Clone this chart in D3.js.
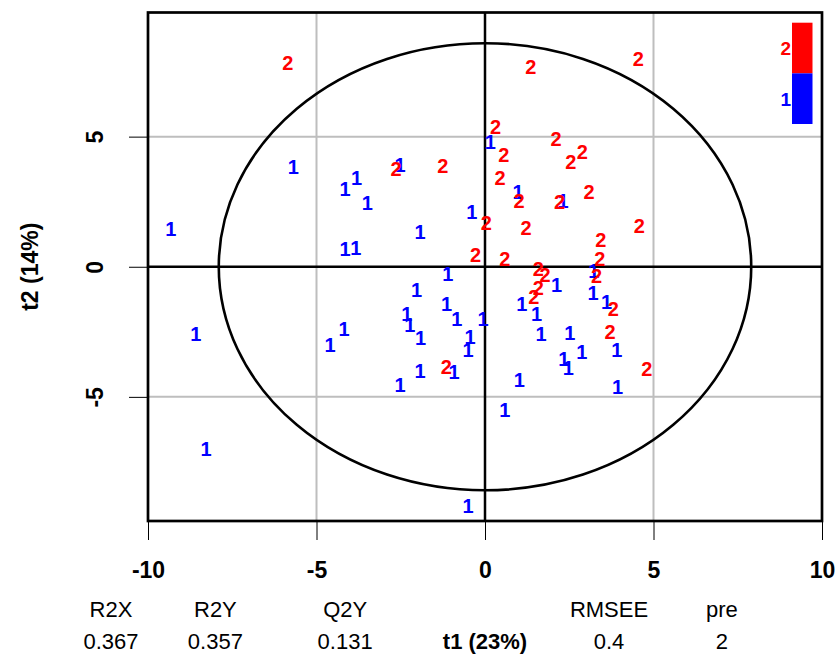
<!DOCTYPE html>
<html>
<head>
<meta charset="utf-8">
<script src="https://cdn.jsdelivr.net/npm/d3@7"></script>
<style>
  body { margin: 0; background: #fff; }
  text { font-family: "Liberation Sans", Arial, sans-serif; }
</style>
</head>
<body>
<div id="score-plot"></div>
<script>

// score values (t1, t2) for each class
const t1Class1 = [-9.32, -5.69, -4.15, -3.81, -3.49, -2.52, -0.39, -1.93, -4.15, -3.83,
  0.16, 0.98, 2.32, -1.10, -2.03, -1.14, -0.84, -0.06, -2.32, -2.23,
  -1.91, -0.44, -0.50, -4.18, -4.60, -8.58, -1.93, -0.92, -2.52, -8.28,
  -0.50, 0.59, 1.02, 1.09, 1.53, 2.12, 3.23, 3.21, 3.61, 1.66,
  2.52, 2.87, 3.91, 2.34, 2.47, 3.93];
const t2Class1 = [1.44, 3.85, 2.99, 3.40, 2.44, 3.91, 2.12, 1.33, 0.68, 0.72,
  4.81, 2.87, 2.53, -0.26, -0.90, -1.41, -2.00, -2.01, -1.79, -2.24,
  -2.72, -2.69, -3.18, -2.37, -3.01, -2.56, -4.01, -4.04, -4.55, -6.98,
  -9.17, -5.51, -4.33, -1.41, -1.79, -0.69, -0.17, -1.02, -1.35, -2.56,
  -2.55, -3.27, -3.20, -3.52, -3.88, -4.62];

const t1Class2 = [-5.85, 1.36, 4.55, 0.31, 2.11, 0.56, 2.89, 2.55, -2.64, -1.25,
  0.45, 1.01, 2.21, 3.09, 0.04, 1.22, 4.58, 3.44, -0.28, 0.59,
  3.41, 1.58, 1.78, 3.31, 1.58, 1.45, 3.81, 3.71, -1.15, 4.80];
const t2Class2 = [7.82, 7.69, 7.98, 5.37, 4.91, 4.30, 4.41, 4.04, 3.78, 3.87,
  3.40, 2.52, 2.50, 2.88, 1.70, 1.49, 1.58, 1.04, 0.47, 0.30,
  0.30, -0.06, -0.32, -0.34, -0.82, -1.15, -1.60, -2.50, -3.86, -3.91];

const classLabels = ["2", "1"];
const classColors = ["#ff0000", "#0000ff"];

const xTicks = [-10, -5, 0, 5, 10];
const yTicks = [-5, 0, 5];

const metricNames = ["R2X", "R2Y", "Q2Y", "RMSEE", "pre"];
const metricValues = ["0.367", "0.357", "0.131", "0.4", "2"];

// Hotelling ellipse half axes (t1, t2)
const ellipseT1 = 7.9;
const ellipseT2 = 8.59;

const width = 840, height = 662;
const margin = {top: 12.5, right: 18, bottom: 141, left: 148};

const svg = d3.select("#score-plot")
  .append("svg")
  .attr("width", width)
  .attr("height", height);

const xScale = d3.scaleLinear()
  .domain([-10, 10])
  .range([margin.left, width - margin.right]);

const yScale = d3.scaleLinear()
  .domain([-9.77, 9.77])
  .range([height - margin.bottom, margin.top]);

// grey grid lines
svg.append("g")
  .selectAll("line")
  .data(xTicks.filter(d => d !== 0))
  .join("line")
  .attr("x1", d => xScale(d)).attr("x2", d => xScale(d))
  .attr("y1", yScale(9.77)).attr("y2", yScale(-9.77))
  .attr("stroke", "#bebebe").attr("stroke-width", 2);

svg.append("g")
  .selectAll("line")
  .data(yTicks.filter(d => d !== 0))
  .join("line")
  .attr("x1", xScale(-10)).attr("x2", xScale(10))
  .attr("y1", d => yScale(d)).attr("y2", d => yScale(d))
  .attr("stroke", "#bebebe").attr("stroke-width", 2);

// zero lines
svg.append("line")
  .attr("x1", xScale(0)).attr("x2", xScale(0))
  .attr("y1", yScale(9.77)).attr("y2", yScale(-9.77))
  .attr("stroke", "black").attr("stroke-width", 2.5);
svg.append("line")
  .attr("x1", xScale(-10)).attr("x2", xScale(10))
  .attr("y1", yScale(0)).attr("y2", yScale(0))
  .attr("stroke", "black").attr("stroke-width", 2.5);

// ellipse
svg.append("ellipse")
  .attr("cx", xScale(0))
  .attr("cy", yScale(0))
  .attr("rx", xScale(ellipseT1) - xScale(0))
  .attr("ry", yScale(0) - yScale(ellipseT2))
  .attr("fill", "none")
  .attr("stroke", "black")
  .attr("stroke-width", 2.6);

// the score labels
const pts = [];
t1Class1.forEach((v, i) => pts.push({x: v, y: t2Class1[i], lab: "1"}));
t1Class2.forEach((v, i) => pts.push({x: v, y: t2Class2[i], lab: "2"}));

svg.append("g")
  .selectAll("text")
  .data(pts)
  .join("text")
  .attr("x", d => xScale(d.x))
  .attr("y", d => yScale(d.y))
  .attr("dy", "0.36em")
  .attr("text-anchor", "middle")
  .attr("font-size", "20px")
  .attr("font-weight", "bold")
  .attr("fill", d => classColors[classLabels.indexOf(d.lab)])
  .text(d => d.lab);

// box
svg.append("rect")
  .attr("x", xScale(-10)).attr("y", yScale(9.77))
  .attr("width", xScale(10) - xScale(-10))
  .attr("height", yScale(-9.77) - yScale(9.77))
  .attr("fill", "none")
  .attr("stroke", "black")
  .attr("stroke-width", 2.7);

// axes
const xAxis = svg.append("g")
  .attr("transform", `translate(0,${yScale(-9.77)})`)
  .call(d3.axisBottom(xScale).tickValues(xTicks).tickSize(19).tickPadding(22).tickFormat(d3.format("d")));
xAxis.select(".domain").remove();
xAxis.selectAll("text")
  .attr("font-size", "23px").attr("font-weight", "bold")
  .attr("font-family", "Liberation Sans, Arial, sans-serif")
  .text(d => d < 0 ? "-" + Math.abs(d) : d);

const yAxis = svg.append("g")
  .attr("transform", `translate(${xScale(-10)},0)`)
  .call(d3.axisLeft(yScale).tickValues(yTicks).tickSize(19).tickFormat(d3.format("d")));
yAxis.select(".domain").remove();
yAxis.selectAll("text")
  .attr("x", null).attr("dy", "0.36em")
  .attr("font-size", "23px").attr("font-weight", "bold")
  .attr("font-family", "Liberation Sans, Arial, sans-serif")
  .attr("text-anchor", "middle")
  .attr("transform", d => `translate(-53,0) rotate(-90)`)
  .text(d => d < 0 ? "-" + Math.abs(d) : d);

// y title
svg.append("text")
  .attr("transform", `translate(30,${yScale(0)}) rotate(-90)`)
  .attr("dy", "0.36em")
  .attr("text-anchor", "middle")
  .attr("font-size", "23px")
  .attr("font-weight", "bold")
  .text("t2 (14%)");

// metrics under the axis
const metricAt = [-11.1, -8.0, -4.15, 3.68, 7.03];
svg.append("g")
  .selectAll("text")
  .data(metricNames)
  .join("text")
  .attr("x", (d, i) => xScale(metricAt[i]))
  .attr("y", 609).attr("dy", "0.36em")
  .attr("text-anchor", "middle")
  .attr("font-size", "22px")
  .text(d => d);

svg.append("g")
  .selectAll("text")
  .data(metricValues)
  .join("text")
  .attr("x", (d, i) => xScale(metricAt[i]))
  .attr("y", 641).attr("dy", "0.36em")
  .attr("text-anchor", "middle")
  .attr("font-size", "22px")
  .text(d => d);

svg.append("text")
  .attr("x", xScale(0))
  .attr("y", 641).attr("dy", "0.36em")
  .attr("text-anchor", "middle")
  .attr("font-size", "22px")
  .attr("font-weight", "bold")
  .text("t1 (23%)");

// legend color bar
const legY = d3.scaleBand().domain(classLabels).range([22.7, 124]);
const leg = svg.append("g");
leg.selectAll("rect")
  .data(classLabels)
  .join("rect")
  .attr("x", 792).attr("width", 20.5)
  .attr("y", d => legY(d))
  .attr("height", legY.bandwidth())
  .attr("fill", (d, i) => classColors[i]);
leg.selectAll("text")
  .data(classLabels)
  .join("text")
  .attr("x", 791)
  .attr("y", d => legY(d) + legY.bandwidth() / 2)
  .attr("dy", "0.36em")
  .attr("text-anchor", "end")
  .attr("font-size", "19px")
  .attr("font-weight", "bold")
  .attr("fill", (d, i) => classColors[i])
  .text(d => d);

</script>
</body>
</html>
